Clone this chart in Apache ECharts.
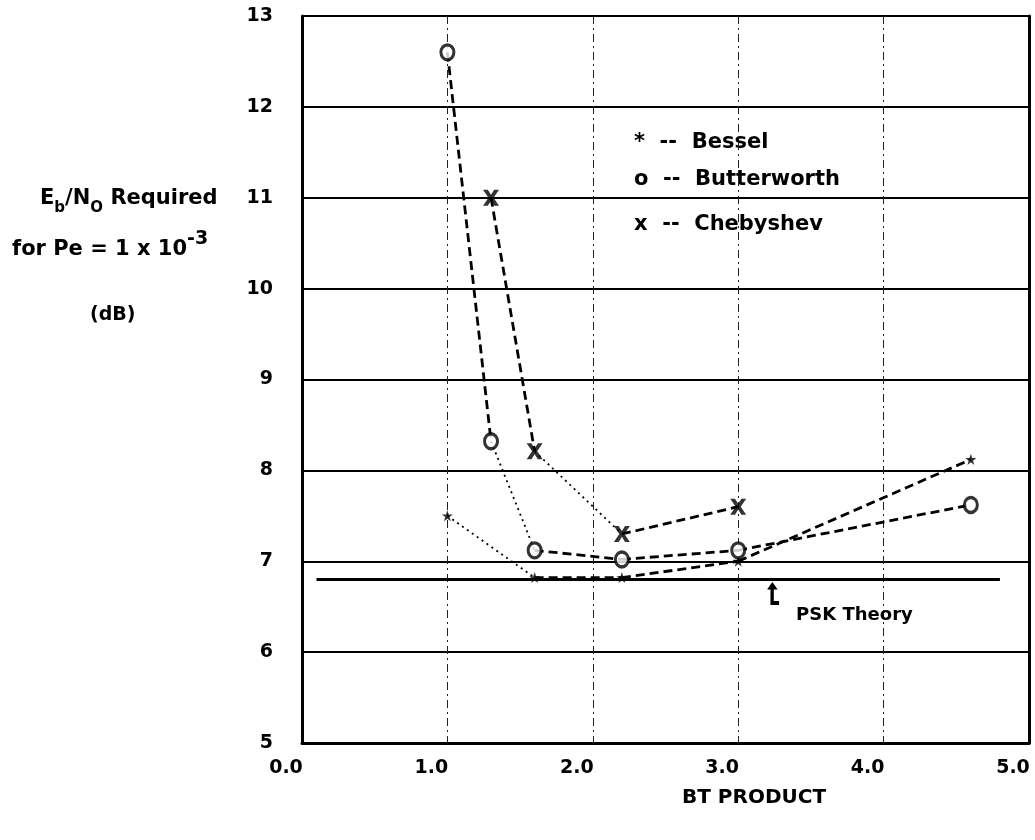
<!DOCTYPE html>
<html>
<head>
<meta charset="utf-8">
<title>Eb/No required vs BT product</title>
<script src="https://cdn.jsdelivr.net/npm/echarts@6/dist/echarts.min.js"></script>
<style>
  html, body { margin: 0; padding: 0; background: #fff; }
  #chart { width: 1035px; height: 840px; }
</style>
</head>
<body>
<div id="chart"></div>
<script>
// BT product of the filter and the Eb/No (dB) needed for Pe = 1e-3
const besselBT = [1.0, 1.6, 2.2, 3.0, 4.6];
const besselEb = [7.5, 6.82, 6.82, 7.0, 8.12];

const butterBT = [1.0, 1.3, 1.6, 2.2, 3.0, 4.6];
const butterEb = [12.6, 8.32, 7.12, 7.02, 7.12, 7.62];

const chebyBT = [1.3, 1.6, 2.2, 3.0];
const chebyEb = [11.0, 8.21, 7.3, 7.6];

// ideal PSK reference level
const pskBT = [0.1, 4.8];
const pskEb = [6.8, 6.8];
const pskArrowBT = 3.24;

const xTicks = [0, 1, 2, 3, 4, 5];
const yTicks = [5, 6, 7, 8, 9, 10, 11, 12, 13];

// stroke style of each segment between consecutive points
const besselSeg = ['dotted', 'dash', 'dash', 'dash'];
const butterSeg = ['dash', 'dotted', 'dash', 'dash', 'dash'];
const chebySeg = ['dash', 'dotted', 'dash'];

const INK = '#000';
const FONT = '"DejaVu Sans", sans-serif';

const STAR = 'path://M50,0 L62,34 L98,34 L69,56 L80,92 L50,70 L20,92 L31,56 L2,34 L38,34 Z';
const CROSS = 'path://M0,0 L30,0 L50,32 L70,0 L100,0 L66,50 L100,100 L70,100 L50,68 L30,100 L0,100 L34,50 Z';
const ARROW = 'path://M12,0 L23,15 L15,15 L15,38 L26,38 L26,46 L8,46 L8,15 L1,15 Z';

function zip(xs, ys) { return xs.map((x, i) => [x, ys[i]]); }

function segmentSeries(name, xs, ys, styles) {
  const pts = zip(xs, ys);
  return styles.map((s, i) => ({
    name: name,
    type: 'line',
    data: [pts[i], pts[i + 1]],
    symbol: 'none',
    silent: true,
    z: 3,
    lineStyle: s === 'dotted'
      ? { color: INK, width: 1.8, type: [2, 4] }
      : { color: INK, width: 2.8, type: [9, 5] }
  }));
}

const chart = echarts.init(document.getElementById('chart'), null, { renderer: 'canvas' });

const labelFont = { fontFamily: FONT, fontWeight: 'bold', color: INK };

const option = {
  backgroundColor: '#fff',
  animation: false,
  grid: { left: 302, right: 6, top: 16, bottom: 97, containLabel: false },
  xAxis: [{
    type: 'value', min: 0, max: 5, interval: 1,
    axisLine: { show: true, onZero: false, lineStyle: { color: INK, width: 3 } },
    axisTick: { show: false },
    splitLine: { show: true, lineStyle: { color: '#222', width: 1, type: [8, 4, 2, 4] } },
    axisLabel: Object.assign({
      fontSize: 19, margin: 16, padding: [0, 32, 0, 0],
      formatter: v => xTicks.includes(v) ? v.toFixed(1) : ''
    }, labelFont)
  }],
  yAxis: [{
    type: 'value', min: 5, max: 13, interval: 1,
    axisLine: { show: true, onZero: false, lineStyle: { color: INK, width: 3 } },
    axisTick: { show: false },
    splitLine: { show: true, lineStyle: { color: INK, width: 2 } },
    axisLabel: Object.assign({
      fontSize: 19, margin: 29,
      formatter: v => yTicks.includes(v) ? String(v) : ''
    }, labelFont)
  }, {
    type: 'value', min: 5, max: 13, interval: 1, position: 'right',
    axisLine: { show: true, onZero: false, lineStyle: { color: INK, width: 3 } },
    axisTick: { show: false }, axisLabel: { show: false }, splitLine: { show: false }
  }],
  series: [
    {
      name: 'PSK Theory', type: 'line', data: zip(pskBT, pskEb),
      symbol: 'none', z: 2,
      lineStyle: { color: INK, width: 3, type: 'solid' },
      markPoint: {
        silent: true,
        data: [{
          coord: [pskArrowBT, pskEb[0]],
          symbol: ARROW, symbolSize: [12, 23], symbolOffset: [0, 14],
          itemStyle: { color: INK },
          label: {
            show: true, position: 'right', offset: [12, 22],
            formatter: 'PSK Theory',
            fontFamily: FONT, fontWeight: 'bold', fontSize: 18, color: INK
          }
        }]
      }
    },
    ...segmentSeries('Bessel', besselBT, besselEb, besselSeg),
    ...segmentSeries('Butterworth', butterBT, butterEb, butterSeg),
    ...segmentSeries('Chebyshev', chebyBT, chebyEb, chebySeg),
    {
      name: 'Bessel', type: 'scatter', data: zip(besselBT, besselEb), z: 5,
      symbol: STAR, symbolSize: 11, itemStyle: { color: INK }
    },
    {
      name: 'Butterworth', type: 'scatter', data: zip(butterBT, butterEb), z: 5,
      symbol: 'circle', symbolSize: [13, 15],
      itemStyle: { color: '#fff', borderColor: INK, borderWidth: 3.2 }
    },
    {
      name: 'Chebyshev', type: 'scatter', data: zip(chebyBT, chebyEb), z: 5,
      symbol: CROSS, symbolSize: 16, itemStyle: { color: INK }
    }
  ],
  graphic: [
    // key to the marker symbols
    { type: 'text', left: 634, top: 132, style: { text: '*  --  Bessel', font: 'bold 21px ' + FONT, fill: INK } },
    { type: 'text', left: 634, top: 169, style: { text: 'o  --  Butterworth', font: 'bold 21px ' + FONT, fill: INK } },
    { type: 'text', left: 634, top: 214, style: { text: 'x  --  Chebyshev', font: 'bold 21px ' + FONT, fill: INK } },
    // vertical axis title
    {
      type: 'text', left: 40, top: 182,
      style: {
        text: 'E{s|b}/N{s|O} Required',
        font: 'bold 21px ' + FONT, fill: INK, lineHeight: 34,
        rich: { s: { fontSize: 15, fontWeight: 'bold', fontFamily: FONT, verticalAlign: 'bottom', lineHeight: 20 } }
      }
    },
    {
      type: 'text', left: 12, top: 230,
      style: {
        text: 'for Pe = 1 x 10{p|-3}',
        font: 'bold 21px ' + FONT, fill: INK, lineHeight: 40,
        rich: { p: { fontSize: 19, fontWeight: 'bold', fontFamily: FONT, verticalAlign: 'top', lineHeight: 20 } }
      }
    },
    { type: 'text', left: 90, top: 306, style: { text: '(dB)', font: 'bold 19px ' + FONT, fill: INK } },
    // horizontal axis title
    { type: 'text', left: 682, top: 788, style: { text: 'BT PRODUCT', font: 'bold 20px ' + FONT, fill: INK } }
  ]
};

chart.setOption(option);
</script>
</body>
</html>
